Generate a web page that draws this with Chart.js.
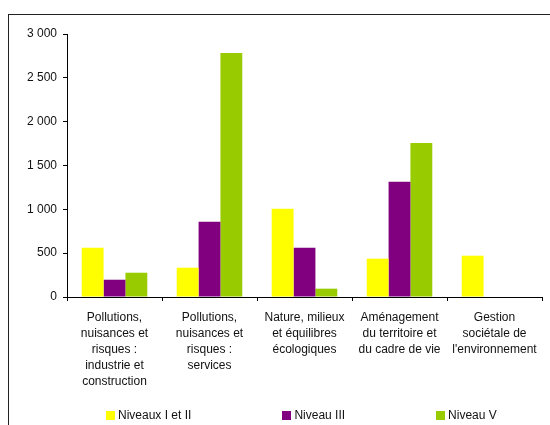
<!DOCTYPE html>
<html lang="fr">
<head>
    <meta charset="UTF-8">
    <title>Bar Chart</title>
    <style>
        body {
          margin: 0;
          background: #fff;
          font-family: "Liberation Sans", Arial, sans-serif;
        }
        #wrap {
          position: relative;
          width: 550px;
          height: 425px;
          overflow: hidden;
        }
        #frame {
          position: absolute;
          left: 8px;
          top: 14px;
          width: 560px;
          height: 420px;
          border-left: 1px solid #222;
          border-top: 1px solid #222;
        }
        #chart {
          position: absolute;
          left: 0;
          top: 0;
        }
        #legend {
          position: absolute;
          left: 106px;
          top: 408px;
          display: flex;
          gap: 91px;
          font-size: 12px;
          color: #111;
          white-space: nowrap;
        }
        .item {
          display: flex;
          align-items: center;
        }
        .box {
          width: 9px;
          height: 9px;
          margin-right: 3px;
        }
    </style>
    <script src="https://cdn.jsdelivr.net/npm/chart.js"></script>
</head>
<body>
  <div id="wrap">
    <div id="frame"></div>
    <canvas id="chart" width="550" height="425"></canvas>
    <div id="legend"></div>
  </div>
  <script>
    // categories (multi-line labels)
    const categories = [
      ['Pollutions,', 'nuisances et', 'risques :', 'industrie et', 'construction'],
      ['Pollutions,', 'nuisances et', 'risques :', 'services'],
      ['Nature, milieux', 'et équilibres', 'écologiques'],
      ['Aménagement', 'du territoire et', 'du cadre de vie'],
      ['Gestion', 'sociétale de', "l'environnement"]
    ];
    const seriesNames = ['Niveaux I et II', 'Niveau III', 'Niveau V'];
    const niveauxIetII = [562, 334, 1006, 437, 471];
    const niveauIII = [197, 858, 562, 1314, null];
    const niveauV = [277, 2784, 95, 1758, null];
    const colors = ['#FFFF00', '#800080', '#99CC00'];

    const fmt = v => String(v).replace(/\B(?=(\d{3})+(?!\d))/g, ' ');

    const ctx = document.getElementById('chart').getContext('2d');
    const chart = new Chart(ctx, {
        type: 'bar',
        data: {
            labels: categories,
            datasets: [niveauxIetII, niveauIII, niveauV].map((d, i) => ({
                label: seriesNames[i],
                data: d,
                backgroundColor: colors[i],
                borderWidth: 0,
                categoryPercentage: 0.69,
                barPercentage: 1
            }))
        },
        options: {
            responsive: false,
            animation: false,
            layout: { padding: { top: 34, right: 8, bottom: 0, left: 0 } },
            plugins: {
                legend: { display: false },
                tooltip: { enabled: false }
            },
            scales: {
                x: {
                    grid: { drawOnChartArea: false, tickLength: 4, color: '#000' },
                    border: { color: '#000' },
                    ticks: {
                        color: '#111',
                        padding: 9,
                        maxRotation: 0,
                        autoSkip: false,
                        font: { family: 'Liberation Sans', size: 12, lineHeight: 1.333 }
                    },
                    afterFit: s => { s.height = 128; }
                },
                y: {
                    min: 0,
                    max: 3000,
                    grid: { drawOnChartArea: false, tickLength: 4, color: '#000' },
                    border: { color: '#000' },
                    ticks: {
                        stepSize: 500,
                        color: '#111',
                        padding: 6,
                        font: { family: 'Liberation Sans', size: 12 },
                        callback: v => fmt(v)
                    },
                    afterFit: s => { s.width = 67; }
                }
            }
        }
    });

    // legend built from the chart datasets
    const legend = document.getElementById('legend');
    chart.data.datasets.forEach(ds => {
        const item = document.createElement('div');
        item.className = 'item';
        item.innerHTML = '<span class="box" style="background:' + ds.backgroundColor + '"></span>' + ds.label;
        legend.appendChild(item);
    });
  </script>
</body>
</html>
